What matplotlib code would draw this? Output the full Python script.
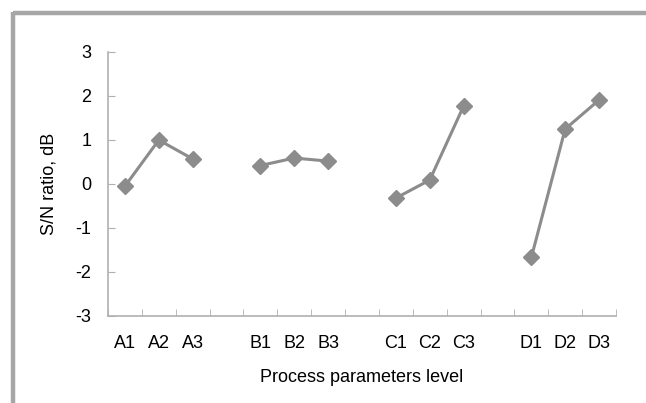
import matplotlib
matplotlib.use("Agg")
import matplotlib.pyplot as plt
from matplotlib.lines import Line2D
import numpy as np

plt.rcParams['font.family'] = ['Liberation Sans', 'DejaVu Sans']
plt.rcParams['axes.unicode_minus'] = False

groups = ["A", "B", "C", "D"]
labels = [["A1", "A2", "A3"], ["B1", "B2", "B3"], ["C1", "C2", "C3"], ["D1", "D2", "D3"]]
values = [[-0.05, 1.00, 0.57],
          [0.42, 0.59, 0.52],
          [-0.32, 0.09, 1.77],
          [-1.67, 1.25, 1.91]]

gray = "#8c8c8c"
fig = plt.figure(figsize=(6.46, 4.03), dpi=100)
ax = fig.add_axes([108/646, 1-316/403, 508/646, (316-52)/403])

ticklabels = []
positions = []
pos = 0
for gi, (labs, vals) in enumerate(zip(labels, values)):
    xs = np.arange(pos, pos + len(labs))
    ax.plot(xs, vals, color=gray, lw=2.2, marker="D", markersize=8,
            markerfacecolor=gray, markeredgecolor=gray)
    positions.extend(xs)
    ticklabels.extend(labs)
    pos += len(labs) + 1
n_slots = pos - 1

ax.set_xlim(-0.5, n_slots - 0.5)
ax.set_ylim(-3, 3)
ax.set_yticks(range(-3, 4))
ax.set_xticks(positions)
ax.set_xticklabels(ticklabels)
ax.set_xticks(np.arange(-0.5, n_slots, 1.0), minor=True)
ax.tick_params(axis='x', which='major', length=0, pad=14, labelsize=13)
ax.tick_params(axis='x', which='minor', length=5, direction='in', color="#b0b0b0")
ax.tick_params(axis='y', length=5, direction='in', color="#b0b0b0", labelsize=13, pad=12)

for s in ['top', 'right']:
    ax.spines[s].set_visible(False)
for s in ['left', 'bottom']:
    ax.spines[s].set_color("#b0b0b0")
    ax.spines[s].set_linewidth(1.2)

ax.set_ylabel("S/N ratio, dB", fontsize=13, labelpad=13)
ax.set_xlabel("Process parameters level", fontsize=13, labelpad=12)

border = "#a6a6a6"
fig.add_artist(Line2D([13/646, 1.0], [1-13/403, 1-13/403], transform=fig.transFigure,
                      color=border, lw=3.2, solid_capstyle='butt'))
fig.add_artist(Line2D([13/646, 13/646], [0, 1-11.5/403], transform=fig.transFigure,
                      color=border, lw=3.2, solid_capstyle='butt'))

fig.savefig("out.png", dpi=100)
